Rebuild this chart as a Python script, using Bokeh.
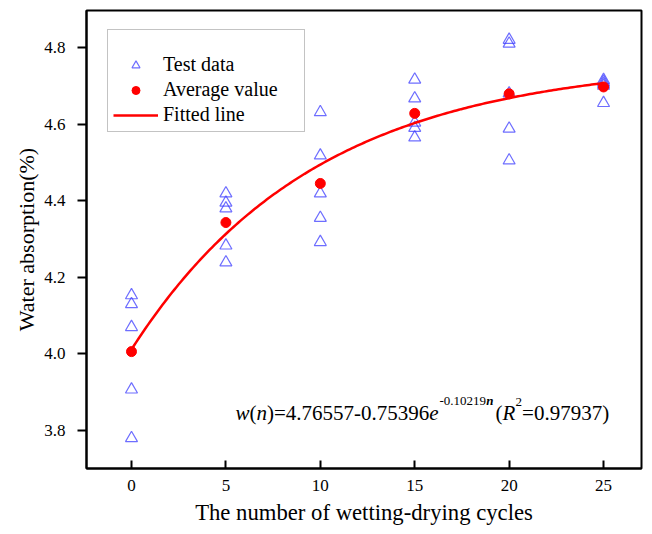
import numpy as np
from bokeh.plotting import figure
from bokeh.models import Range1d, Legend, LegendItem, Label, FixedTicker, CustomJSTickFormatter
from bokeh.embed import file_html
from bokeh.resources import INLINE

# ---- data ----
cycles = [0, 5, 10, 15, 20, 25]
test_data = [
    [4.153, 4.130, 4.070, 3.907, 3.780],
    [4.419, 4.395, 4.380, 4.283, 4.239],
    [4.631, 4.518, 4.419, 4.355, 4.292],
    [4.716, 4.667, 4.604, 4.590, 4.565],
    [4.820, 4.810, 4.680, 4.588, 4.505],
    [4.715, 4.710, 4.705, 4.700, 4.655],
]
average_value = [4.006, 4.343, 4.445, 4.628, 4.679, 4.697]
fit_a, fit_b, fit_k = 4.76557, 0.75396, 0.10219
x_ticks = [0, 5, 10, 15, 20, 25]
y_ticks = [3.8, 4.0, 4.2, 4.4, 4.6, 4.8]

FONT = "Liberation Serif"

p = figure(width=652, height=534, output_backend="svg", toolbar_location=None,
           x_range=Range1d(-2.383, 27.01), y_range=Range1d(3.7008, 4.8966))
p.min_border_left = 86
p.min_border_right = 11
p.min_border_top = 10
p.min_border_bottom = 66
p.background_fill_color = "white"
p.border_fill_color = "white"
p.outline_line_color = "black"
p.outline_line_width = 2
p.grid.visible = False

p.xaxis.ticker = FixedTicker(ticks=x_ticks)
p.yaxis.ticker = FixedTicker(ticks=y_ticks)
p.yaxis.formatter = CustomJSTickFormatter(code="return tick.toFixed(1);")
for ax in (p.xaxis, p.yaxis):
    ax.axis_line_width = 2
    ax.axis_line_color = "black"
    ax.major_tick_line_width = 2
    ax.major_tick_line_color = "black"
    ax.minor_tick_line_color = None
    ax.major_label_text_font = FONT
    ax.major_label_text_font_size = "17px"
    ax.major_label_text_color = "black"
    ax.axis_label_text_font = FONT
    ax.axis_label_text_font_size = "22.7px"
    ax.axis_label_text_font_style = "normal"
    ax.axis_label_text_color = "black"
p.yaxis.axis_label_text_font_size = "22px"
p.xaxis.major_tick_in = 8
p.xaxis.major_tick_out = 0
p.xaxis.major_label_standoff = 11
p.xaxis.axis_label_standoff = 6
p.yaxis.major_tick_in = 0
p.yaxis.major_tick_out = 9
p.yaxis.major_label_standoff = 12
p.yaxis.axis_label_standoff = 2
p.xaxis.axis_label = "The number of wetting-drying cycles"
p.yaxis.axis_label = "Water absorption(%)"

# test data triangles
tx = [c for c, vals in zip(cycles, test_data) for _ in vals]
ty = [v for vals in test_data for v in vals]
r_test = p.scatter(tx, ty, marker="triangle", size=12, fill_color=None,
                   line_color="#3d3dff", line_alpha=0.75, line_width=1.2)

# fitted line
n = np.linspace(cycles[0], cycles[-1], 200)
w = fit_a - fit_b * np.exp(-fit_k * n)
r_fit = p.line(n, w, line_color="red", line_width=2.5)

# average values
r_avg = p.scatter(cycles, average_value, marker="circle", size=10,
                  fill_color="red", line_color="red")

legend = Legend(items=[
    LegendItem(label="Test data", renderers=[r_test]),
    LegendItem(label="Average value", renderers=[r_avg]),
    LegendItem(label="Fitted line", renderers=[r_fit]),
], location=(21, 336))
legend.title = " "
legend.title_text_font_size = "12px"
legend.title_standoff = 4
legend.padding = 5
legend.spacing = 2
legend.glyph_width = 45
legend.glyph_height = 20
legend.label_height = 20
legend.label_width = 136
legend.label_standoff = 5
legend.label_text_font = FONT
legend.label_text_font_size = "20px"
legend.label_text_color = "black"
legend.border_line_color = "#888888"
legend.border_line_width = 1
legend.background_fill_color = "white"
legend.background_fill_alpha = 1
p.add_layout(legend)

# equation annotation (pixel layout -> data coords)
def dx(px):
    return -2.383 + (px - 86) / 18.88

def dy(py):
    return 4.8 - (py - 47) / 383.0

BASE = 412
SUP = 400
pieces = [
    ("w", 235, BASE, "21px", "italic"),
    ("(", 249, BASE, "21px", "normal"),
    ("n", 256, BASE, "21px", "italic"),
    (")=4.76557-0.75396", 266.5, BASE, "21px", "normal"),
    ("e", 428.8, BASE, "21px", "italic"),
    ("-0.10219", 439, SUP, "13px", "normal"),
    ("n", 485.6, SUP, "13px", "bold italic"),
    ("(", 495, BASE, "21px", "normal"),
    ("R", 502, BASE, "21px", "italic"),
    ("2", 515, SUP + 1, "13px", "normal"),
    ("=0.97937)", 521.5, BASE, "21px", "normal"),
]
for txt, px, py, fs, st in pieces:
    p.add_layout(Label(x=dx(px), y=dy(py), text=txt, text_font=FONT,
                       text_font_size=fs, text_font_style=st,
                       text_color="black", text_baseline="alphabetic",
                       text_align="left"))

open("out.html", "w").write(file_html(p, INLINE))
